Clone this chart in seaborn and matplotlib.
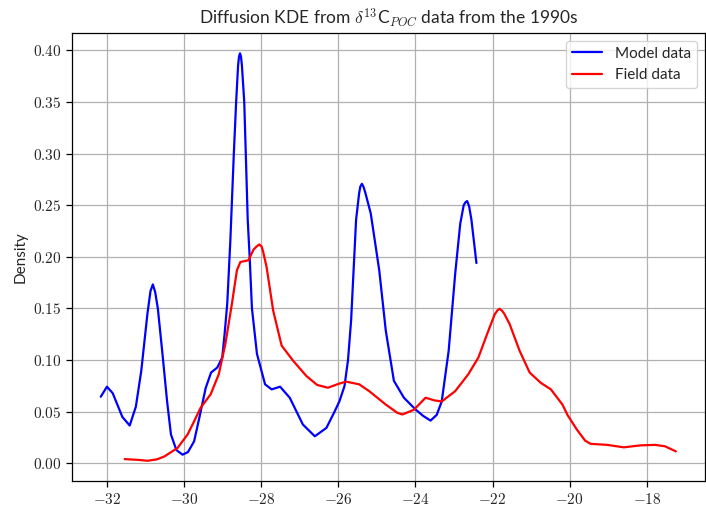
import numpy as np
import pandas as pd
import matplotlib
matplotlib.use("Agg")
import matplotlib.pyplot as plt
import seaborn as sns

model_x = [-32.16, -32.0, -31.85, -31.6, -31.41, -31.25, -31.11, -30.95, -30.87, -30.81, -30.75, -30.68,
           -30.56, -30.44, -30.34, -30.2, -30.04, -29.9, -29.74, -29.6, -29.44, -29.3,
           -29.14, -29.01, -28.95, -28.88, -28.80, -28.71, -28.65, -28.60, -28.575, -28.55, -28.525, -28.50, -28.44,
           -28.40, -28.35, -28.30, -28.24, -28.11, -27.90, -27.73, -27.51, -27.26, -26.92,
           -26.61, -26.31, -26.1, -25.97, -25.84, -25.75, -25.67, -25.54, -25.46, -25.43, -25.39,
           -25.35, -25.30, -25.16, -24.94, -24.77, -24.56, -24.30, -24.00, -23.8, -23.61, -23.45,
           -23.32, -23.14, -22.97, -22.84, -22.75, -22.70, -22.66, -22.61, -22.55, -22.42]
model_y = [0.0646, 0.0743, 0.068, 0.045, 0.0367, 0.055, 0.0896, 0.145, 0.167, 0.1733, 0.166, 0.150,
           0.106, 0.060, 0.028, 0.013, 0.0085, 0.011, 0.0214, 0.045, 0.073, 0.088,
           0.0928, 0.1025, 0.125, 0.155, 0.216, 0.30, 0.35, 0.385, 0.394, 0.397, 0.394, 0.385, 0.35,
           0.30, 0.236, 0.20, 0.15, 0.106, 0.0766, 0.0717, 0.0743, 0.0636, 0.0377,
           0.0263, 0.0344, 0.05, 0.0604, 0.075, 0.100, 0.138, 0.236, 0.262, 0.268, 0.2707,
           0.268, 0.262, 0.242, 0.187, 0.1285, 0.080, 0.0636, 0.0523, 0.046, 0.0415, 0.047,
           0.060, 0.109, 0.184, 0.232, 0.250, 0.253, 0.254, 0.249, 0.236, 0.194]

field_x = [-31.54, -31.2, -30.94, -30.7, -30.51, -30.17, -29.91, -29.75, -29.57, -29.31,
           -29.10, -28.93, -28.76, -28.63, -28.54, -28.33, -28.20, -28.12, -28.05, -27.99, -27.95, -27.86,
           -27.69, -27.47, -27.17, -26.83, -26.55, -26.27, -26.0, -25.80, -25.46, -25.20,
           -24.77, -24.47, -24.34, -24.04, -23.74, -23.5, -23.32, -22.97, -22.63, -22.37,
           -22.11, -21.95, -21.88, -21.82, -21.76, -21.70, -21.56, -21.30, -21.04, -20.75, -20.49, -20.19,
           -20.06, -19.82, -19.6, -19.46, -19.03, -18.60, -18.17, -17.79, -17.53, -17.25]
field_y = [0.0042, 0.0035, 0.0026, 0.004, 0.0068, 0.015, 0.028, 0.040, 0.054, 0.067,
           0.0864, 0.1156, 0.1545, 0.187, 0.195, 0.1967, 0.207, 0.210, 0.212, 0.210, 0.205, 0.190,
           0.148, 0.114, 0.0993, 0.0847, 0.076, 0.0733, 0.077, 0.0792, 0.0766, 0.070,
           0.057, 0.049, 0.0474, 0.052, 0.0636, 0.061, 0.060, 0.070, 0.0864, 0.1025,
           0.1285, 0.144, 0.148, 0.1497, 0.148, 0.145, 0.135, 0.109, 0.088, 0.078, 0.0717, 0.057,
           0.047, 0.033, 0.022, 0.019, 0.018, 0.0156, 0.0175, 0.018, 0.0166, 0.0117]

series_names = ["Model data", "Field data"]
colors = {"Model data": "blue", "Field data": "red"}
xtick_vals = [-32, -30, -28, -26, -24, -22, -20, -18]
ytick_vals = [0.0, 0.05, 0.10, 0.15, 0.20, 0.25, 0.30, 0.35, 0.40]

df = pd.concat([
    pd.DataFrame({"x": model_x, "Density": model_y, "series": series_names[0]}),
    pd.DataFrame({"x": field_x, "Density": field_y, "series": series_names[1]}),
], ignore_index=True)

sns.set_style("white")
plt.rcParams["font.family"] = ["Lato", "DejaVu Sans"]
plt.rcParams["mathtext.fontset"] = "cm"
plt.rcParams["axes.formatter.use_mathtext"] = True

fig, ax = plt.subplots(figsize=(7.06, 5.07), dpi=100)
sns.lineplot(data=df, x="x", y="Density", hue="series", palette=colors,
             estimator=None, sort=False, linewidth=1.6, ax=ax)

ax.set_xticks(xtick_vals)
ax.set_yticks(ytick_vals)
ax.set_xticklabels([f"$-{abs(v)}$" for v in xtick_vals], fontsize=11)
ax.set_yticklabels([f"${v:.2f}$" for v in ytick_vals], fontsize=11)
ax.grid(True, color="#b0b0b0", linewidth=0.9)
ax.set_axisbelow(True)
for s in ax.spines.values():
    s.set_color("black")
    s.set_linewidth(0.9)
ax.tick_params(axis="both", direction="out", length=4, width=0.9, color="black", left=True, bottom=True)
ax.set_xlabel("")
ax.set_ylabel("Density", fontsize=11)
ax.set_title(r"Diffusion KDE from $\delta^{13}$C$_{POC}$ data from the 1990s", fontsize=12.5)
leg = ax.legend(loc="upper right", fontsize=11, title=None, framealpha=0.8)

fig.subplots_adjust(left=0.102, right=0.998, top=0.935, bottom=0.051)
fig.savefig("out.png", dpi=100)
